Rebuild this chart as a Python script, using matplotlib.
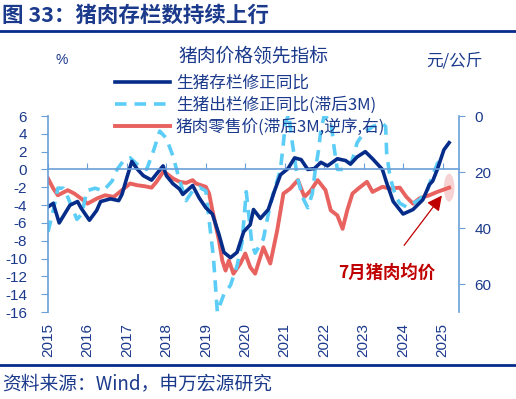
import matplotlib
matplotlib.use('Agg')
import matplotlib.pyplot as plt
from matplotlib.lines import Line2D
from matplotlib.patches import Ellipse

plt.rcParams['font.family'] = ['Liberation Sans', 'Noto Sans CJK SC']
plt.rcParams['axes.unicode_minus'] = False

# months since 2015-01
stock_m = [0, 1.6, 3.4, 6.7, 9, 10, 12.6, 14.8, 16, 19, 21.5, 22.5, 24, 25.5, 27, 29, 31.5, 33, 35, 36,
           38, 40, 41, 44, 46, 48, 50, 52, 53.5, 55.5, 57.5, 59.5, 61.5, 62.5, 64.6, 67, 69, 70.7, 73, 75,
           77, 79, 81, 83, 85, 88, 90.5, 92, 94, 96.5, 98.7, 101.7, 103, 105, 108, 111, 114, 116, 117, 118.4,
           120.4, 122]
stock = [-4.2, -3.8, -6.0, -4.0, -3.6, -4.3, -5.7, -4.6, -3.6, -3.3, -3.5, -2.8, -0.9, 0.9, 0.1, -0.7, -1.2, -0.5, 0.4, -0.7,
         -1.6, -2.2, -2.8, -1.8, -3.2, -4.3, -5.0, -7.3, -9.3, -9.9, -9.3, -7.0, -6.2, -4.5, -5.5, -4.5, -2.3, -0.6, 0.1, 1.3,
         1.1, 0.0, 0.1, 0.8, 0.4, 1.2, 1.0, 0.6, 1.4, 2.0, 1.2, 0.0, -1.5, -3.6, -5.0, -4.5, -3.4, -1.7, -1.3, 0.0,
         2.2, 3.0]

sold_m = [0, 1.6, 3, 4.6, 6, 8.8, 10.3, 11.8, 14.3, 16.8, 19.5, 21, 23, 25, 27, 30, 32, 34, 36, 38,
          40, 42, 44, 46, 48, 49, 50.3, 51.5, 53.5, 55.5, 57.5, 59, 60.3, 62, 63, 65.5, 67, 68.5, 70, 70.7,
          71.6, 72.2, 73.2, 74.3, 75.8, 77.4, 79, 80.4, 81.3, 82.3, 83, 84, 86, 87, 88, 90, 91.5, 92.6, 94, 96,
          98.7, 101.7, 102.7, 103, 104, 105.7, 107, 109, 111, 113, 115.4, 117, 118.5, 120]
sold = [-7.0, -4.6, -2.1, -2.1, -3.1, -5.6, -5.0, -2.4, -2.1, -2.4, -1.3, 0.0, 1.0, 1.3, 0.6, 0.0, 2.0, 4.3, 3.5, 1.5,
        -1.2, -3.5, -2.4, -2.0, -2.4, -5.7, -9.8, -16.0, -14.0, -13.0, -10.8, -8.2, -2.5, -8.3, -9.4, -7.8, -5.0, -2.7, -0.9, 0.0,
        3.0, 5.2, 6.2, 3.0, -0.8, -3.1, -4.3, -2.7, 0.0, 2.2, 4.5, 6.0, 5.5, 2.5, 0.0, 0.0, 0.4, 1.1, 3.0, 4.1,
        4.8, 5.2, 4.8, 1.8, -0.8, -3.0, -3.8, -4.2, -3.8, -3.4, -2.3, -0.6, 0.7, 1.3]

pork_m = [0, 1.6, 3, 6, 8, 10, 12, 15, 17.4, 20, 22.5, 25, 27, 29.5, 31.5, 33, 35, 36, 38, 40,
          42, 44, 45, 48, 49, 50, 52, 53, 54, 55, 56.4, 58.5, 60, 61.5, 63, 65.5, 67.6, 69.7, 71.6, 73.7,
          76, 78, 80, 82, 84.4, 86, 88, 89.6, 91, 92.6, 94.4, 97, 98.7, 101.7, 104, 107, 109, 111, 113, 116,
          118.4, 122]
pork = [22.3, 25.9, 28.3, 26.5, 27.7, 29.4, 31.3, 29.4, 28.3, 28.9, 26.5, 24.1, 24.7, 25.1, 25.6, 23.5, 20.0, 20.5, 22.3, 23.5,
        23.9, 22.9, 24.1, 25.3, 27.7, 33.7, 44.4, 51.6, 55.2, 51.6, 56.3, 52.7, 49.1, 54.0, 56.3, 46.9, 52.7, 40.9, 27.7, 25.9,
        22.9, 28.9, 26.5, 22.9, 26.5, 33.7, 35.5, 40.3, 33.7, 27.7, 25.9, 23.5, 27.1, 25.3, 25.9, 25.6, 28.9, 31.3, 29.4, 28.3,
        27.1, 25.6]

years = [str(y) for y in range(2015, 2026)]
year_pos = [12 * i for i in range(len(years))]

navy = '#062C8A'
light = '#5CCDF7'
red = '#E8625F'
txt = '#1B3A8C'
spine = '#6A9FD8'
cjk = ['Noto Sans CJK SC', 'Liberation Sans']

fig = plt.figure(figsize=(5.16, 3.99), dpi=100)
ax = fig.add_axes([48 / 516, 1 - 312 / 399, 411 / 516, 196 / 399])
ax2 = ax.twinx()
ax.set_zorder(ax2.get_zorder() + 1)
ax.patch.set_visible(False)

l2, = ax.plot(sold_m, sold, color=light, lw=2.6, dashes=(3.2, 2.2), label='生猪出栏修正同比(滞后3M)')
l1, = ax.plot(stock_m, stock, color=navy, lw=2.6, label='生猪存栏修正同比')
l3, = ax2.plot(pork_m, pork, color=red, lw=2.8, label='猪肉零售价(滞后3M,逆序,右)')

ax.set_xlim(0, 125)
ax.set_ylim(-16, 6)
ax.set_yticks(range(-16, 7, 2))
ax2.set_ylim(70, 0)
ax2.set_yticks([0, 20, 40, 60])

for a in (ax, ax2):
    for s in a.spines.values():
        s.set_color(spine)
        s.set_linewidth(1.2)
    a.spines['top'].set_visible(False)

ax.spines['right'].set_visible(False)
ax.spines['bottom'].set_position(('data', 0))
ax.set_xticks(year_pos)
ax.tick_params(axis='x', direction='in', length=4, color=spine, labelbottom=False)
ax.tick_params(axis='y', length=5, color=spine, labelcolor=txt, labelsize=11, pad=10)

ax2.spines['left'].set_visible(False)
ax2.spines['bottom'].set_visible(False)
ax2.xaxis.set_visible(True)
ax2.set_xticks(year_pos)
ax2.set_xticklabels(years, rotation=90)
ax2.tick_params(axis='x', length=0, labelcolor=txt, labelsize=11, pad=8)
ax2.tick_params(axis='y', length=4, color=spine, labelcolor=txt, labelsize=11, pad=7)

# highlight latest pork price
ax2.add_patch(Ellipse((pork_m[-1], pork[-1]), 3.2, 10, color='#F4C0C0', alpha=0.7, lw=0, zorder=1))
ax2.annotate('', xy=(120.3, 27.6), xytext=(107.8, 47),
             arrowprops=dict(arrowstyle='-|>,head_length=0.9,head_width=0.45', color='#C00000', lw=0.9))
fig.text(387 / 516, 1 - 273 / 399, '7月猪肉均价', fontsize=12.5, weight='bold', color='#C00000',
         ha='center', va='center', family=cjk)

fig.legend(handles=[l1, l2, l3], loc='upper left', bbox_to_anchor=(115 / 516, 1 - 75 / 399),
           frameon=False, handlelength=3.3, handletextpad=0.35, labelspacing=0.28,
           borderpad=0, borderaxespad=0, labelcolor=txt, prop={'family': cjk, 'size': 12})

fig.text(2 / 516, 1 - 15 / 399, '图 33：猪肉存栏数持续上行', fontsize=15.5, weight='bold', color=txt,
         va='center', family=cjk)
fig.add_artist(Line2D([0, 1], [1 - 31 / 399] * 2, transform=fig.transFigure, color=navy, lw=2))
fig.text(253 / 516, 1 - 57 / 399, '猪肉价格领先指标', fontsize=13.5, color=txt, ha='center', va='center', family=cjk)
fig.text(62 / 516, 1 - 60 / 399, '%', fontsize=10, color=txt, ha='center', va='center')
fig.text(454 / 516, 1 - 61 / 399, '元/公斤', fontsize=12, color=txt, ha='center', va='center', family=cjk)
fig.add_artist(Line2D([0, 1], [1 - 365 / 399] * 2, transform=fig.transFigure, color=navy, lw=2))
fig.text(2 / 516, 1 - 384 / 399, '资料来源：Wind，申万宏源研究', fontsize=13.5, color=txt, va='center', family=cjk)

fig.savefig('out.png', dpi=100)
